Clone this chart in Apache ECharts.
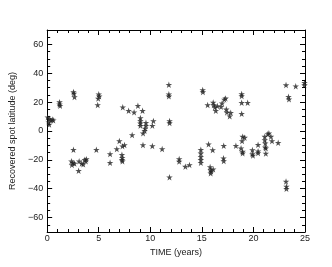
<!DOCTYPE html>
<html>
<head>
<meta charset="utf-8">
<script src="https://cdn.jsdelivr.net/npm/echarts@6/dist/echarts.min.js"></script>
<style>
  html, body { margin: 0; padding: 0; background: #fff; }
  #chart { width: 332px; height: 267px; }
</style>
</head>
<body>
<div id="chart"></div>
<script>
// spot times (years) and recovered latitudes (deg)
const times = [
  0.05, 0.2, 0.35, 0.5, 0.6, 0.2, 0.15,
  1.2, 1.2, 1.25,
  2.55, 2.6, 2.65,
  5.0, 5.05, 4.95, 4.9,
  2.55, 2.35, 2.4, 2.5, 2.65, 3.05, 3.1, 3.35, 3.5, 3.65, 3.8, 3.75, 4.77,
  6.1, 6.1, 6.75, 7.0, 7.3, 7.5, 7.25, 7.28, 7.3, 7.26,
  7.33, 7.9, 8.43, 8.8, 9.25, 9.04, 9.04, 9.04, 9.04, 9.58, 9.58, 9.5, 9.45, 9.3, 10.3, 10.2, 8.24,
  11.8, 11.8, 11.8, 11.87, 11.87,
  9.29, 10.2, 11.15, 11.86, 12.8, 12.8, 13.4, 13.8, 14.9, 14.9, 14.9, 14.9, 14.9, 15.65, 16.05, 15.8, 15.85, 15.85, 16.1, 15.9,
  15.08, 15.1, 15.56, 16.1, 16.15, 16.26, 16.35, 16.5, 16.86, 16.96, 17.18, 17.3, 17.37, 17.43, 17.7, 17.8,
  18.86, 18.86, 18.86, 19.44, 18.86,
  23.16, 24.1, 24.95, 24.95, 23.4, 23.45,
  17.12, 17.1, 17.12, 18.3, 18.96, 19.15, 18.9, 18.8, 18.95, 18.95, 19.9, 19.9, 19.95, 20.45, 20.45, 20.45,
  21.1, 21.15, 21.15, 21.2, 21.2, 21.1, 21.4, 21.7, 21.5, 21.8, 22.4, 23.16, 23.2, 23.2
];
const latitudes = [
  9.5, 8.5, 7.5, 8, 7.5, 4.5, 6,
  20, 18.5, 17.5,
  27, 26, 23.5,
  25.5, 24, 22.5, 18,
  -13, -21, -23.5, -22, -22.5, -27.5, -21, -22.5, -23, -20, -19.5, -21, -13,
  -16, -22, -12.5, -7, -10.5, -9.7, -16.5, -18.5, -21, -20,
  16.5, 14, 13, 17.5, 14, 9, 7, 5.3, 3.7, 5.7, 3.7, 1.8, 0.2, -1.6, 7, 3.7, -2.8,
  32, 25.5, 24, 7, 5.5,
  -9.7, -10.4, -12.5, -32, -19.4, -21.2, -24.7, -23.5, -13, -15.5, -17.8, -20, -22, -9.2, -13.2, -25, -27, -29.3, -26.5, -28,
  28.4, 27, 18, 19.8, 18, 16.4, 14, 17.3, 16.8, 19.2, 21.9, 22.6, 15, 12.9, 10.2, 12.7,
  25.6, 24.3, 19.6, 19.6, 12,
  31.8, 31, 33.5, 31.8, 23.7, 22,
  -10.2, -18.9, -20.8, -10.2, -3.9, -4.6, -6.9, -12, -14.3, -15.5, -13.2, -15.9, -17, -9.5, -14, -15.3,
  -6.2, -8.5, -11.3, -12, -15.6, -3.9, -2.1, -3.9, -1.5, -6.9, -8.2, -35, -38.5, -40
];
const yLabelValues = [-60, -40, -20, 0, 20, 40, 60];

const points = times.map((t, i) => [t, latitudes[i]]);

const chart = echarts.init(document.getElementById('chart'));

const star = 'path://M0,-10L2.2,-3.1L9.5,-3.1L3.6,1.2L5.9,8.1L0,3.8L-5.9,8.1L-3.6,1.2L-9.5,-3.1L-2.2,-3.1Z';
const font = { color: '#222', fontFamily: 'Liberation Sans, Arial, sans-serif', fontSize: 9 };
const black = { color: '#000', width: 1 };

function xAxisFor(position, withLabels) {
  return {
    type: 'value',
    position,
    min: 0,
    max: 25,
    interval: 5,
    axisLine: { show: true, onZero: false, lineStyle: black },
    axisTick: { show: true, inside: true, length: 5, lineStyle: black },
    minorTick: { show: true, splitNumber: 5, length: 3, lineStyle: black },
    axisLabel: withLabels ? { show: true, margin: 2, ...font } : { show: false },
    splitLine: { show: false },
    name: withLabels ? 'TIME (years)' : '',
    nameLocation: 'middle',
    nameGap: 10,
    nameTextStyle: font,
  };
}

function yMinorAxis(position, withLabels) {
  return {
    type: 'value',
    position,
    min: -70,
    max: 70,
    interval: 5,
    axisLine: { show: true, onZero: false, lineStyle: black },
    axisTick: { show: true, inside: true, length: 3, lineStyle: black },
    axisLabel: withLabels
      ? {
          show: true,
          margin: 4,
          customValues: yLabelValues,
          formatter: (v) => (v < 0 ? '\u2212' + Math.abs(v) : String(v)),
          ...font,
        }
      : { show: false },
    splitLine: { show: false },
    name: withLabels ? 'Recovered spot latitude (deg)' : '',
    nameLocation: 'middle',
    nameRotate: 90,
    nameGap: 19,
    nameTextStyle: font,
  };
}

function yMajorAxis(position) {
  return {
    type: 'value',
    position,
    min: -70,
    max: 70,
    interval: 10,
    axisLine: { show: false, onZero: false },
    axisTick: { show: true, inside: true, length: 5, customValues: yLabelValues, lineStyle: black },
    axisLabel: { show: false },
    splitLine: { show: false },
  };
}

chart.setOption({
  animation: false,
  grid: { left: 43, right: 27, top: 30, bottom: 35 },
  xAxis: [xAxisFor('bottom', true), xAxisFor('top', false)],
  yAxis: [
    yMinorAxis('left', true),
    yMajorAxis('left'),
    yMinorAxis('right', false),
    yMajorAxis('right'),
  ],
  series: [
    {
      type: 'scatter',
      xAxisIndex: 0,
      yAxisIndex: 0,
      symbol: star,
      symbolSize: 6.5,
      itemStyle: { color: '#222' },
      data: points,
    },
  ],
});
</script>
</body>
</html>
